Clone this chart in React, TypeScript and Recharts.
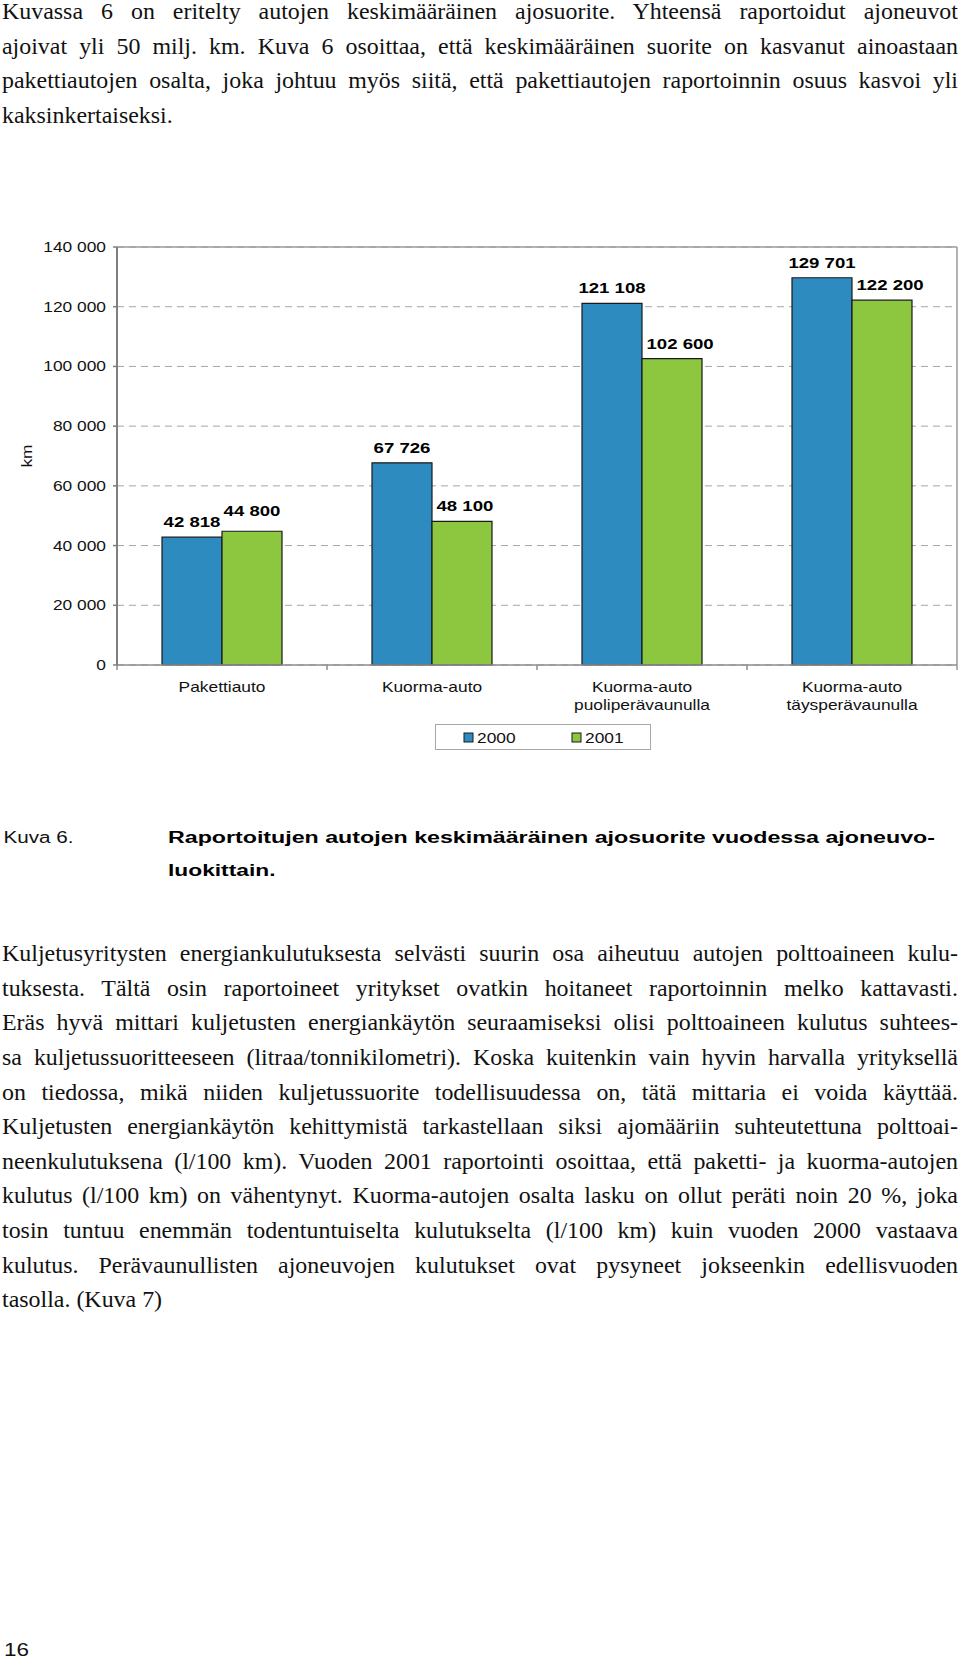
import React from 'react';
import { BarChart, Bar, XAxis, YAxis, CartesianGrid, LabelList, Legend } from 'recharts';

const categories = ['Pakettiauto', 'Kuorma-auto', 'Kuorma-auto\npuoliperävaunulla', 'Kuorma-auto\ntäysperävaunulla'];
const values2000 = [42818, 67726, 121108, 129701];
const values2001 = [44800, 48100, 102600, 122200];
const seriesNames = ['2000', '2001'];
const yTicks = [0, 20000, 40000, 60000, 80000, 100000, 120000, 140000];
const yAxisTitle = 'km';

const introLines = [
  'Kuvassa 6 on eritelty autojen keskimääräinen ajosuorite. Yhteensä raportoidut ajoneuvot',
  'ajoivat yli 50 milj. km. Kuva 6 osoittaa, että keskimääräinen suorite on kasvanut ainoastaan',
  'pakettiautojen osalta, joka johtuu myös siitä, että pakettiautojen raportoinnin osuus kasvoi yli',
  'kaksinkertaiseksi.',
];
const bodyLines = [
  'Kuljetusyritysten energiankulutuksesta selvästi suurin osa aiheutuu autojen polttoaineen kulu-',
  'tuksesta. Tältä osin raportoineet yritykset ovatkin hoitaneet raportoinnin melko kattavasti.',
  'Eräs hyvä mittari kuljetusten energiankäytön seuraamiseksi olisi polttoaineen kulutus suhtees-',
  'sa kuljetussuoritteeseen (litraa/tonnikilometri). Koska kuitenkin vain hyvin harvalla yrityksellä',
  'on tiedossa, mikä niiden kuljetussuorite todellisuudessa on, tätä mittaria ei voida käyttää.',
  'Kuljetusten energiankäytön kehittymistä tarkastellaan siksi ajomääriin suhteutettuna polttoai-',
  'neenkulutuksena (l/100 km). Vuoden 2001 raportointi osoittaa, että paketti- ja kuorma-autojen',
  'kulutus (l/100 km) on vähentynyt. Kuorma-autojen osalta lasku on ollut peräti noin 20 %, joka',
  'tosin tuntuu enemmän todentuntuiselta kulutukselta (l/100 km) kuin vuoden 2000 vastaava',
  'kulutus. Perävaunullisten ajoneuvojen kulutukset ovat pysyneet jokseenkin edellisvuoden',
  'tasolla. (Kuva 7)',
];
const captionLabel = 'Kuva 6.';
const captionLines = ['Raportoitujen autojen keskimääräinen ajosuorite vuodessa ajoneuvo-', 'luokittain.'];
const pageNumber = '16';

const data = categories.map((c, i) => ({ category: c, y2000: values2000[i], y2001: values2001[i] }));

const BLUE = '#2E8BC0';
const GREEN = '#8DC63F';
const SANS = '"Liberation Sans", Arial, sans-serif';
const SX = 1.24;

const fmt = (v: number) => String(v).replace(/\B(?=(\d{3})+(?!\d))/g, ' ');

const YTick = (props: any) => {
  const { x, y, payload } = props;
  return (
    <g transform={`translate(${x},${y}) scale(${SX},1)`}>
      <text x={0} y={0} dy="0.36em" textAnchor="end" fontSize={14} fontFamily={SANS} fill="#111">
        {fmt(payload.value)}
      </text>
    </g>
  );
};

const XTick = (props: any) => {
  const { x, y, payload, index, visibleTicksCount, width } = props;
  const half = payload && payload.offset ? payload.offset : width / visibleTicksCount / 2;
  const lines = String(payload.value).split('\n');
  return (
    <g>
      <line x1={x - half} x2={x - half} y1={y} y2={y + 5} stroke="#8c8c8c" strokeWidth={1.5} />
      {index === visibleTicksCount - 1 && (
        <line x1={x + half} x2={x + half} y1={y} y2={y + 5} stroke="#9a9a9a" strokeWidth={1.5} />
      )}
      <g transform={`translate(${x},${y}) scale(${SX},1)`}>
        <text textAnchor="middle" fontSize={14} fontFamily={SANS} fill="#111">
          {lines.map((l, i) => (
            <tspan key={i} x={0} y={27 + i * 18.5}>
              {l}
            </tspan>
          ))}
        </text>
      </g>
    </g>
  );
};

// Labels: the second series' label is nudged like Excel does to avoid the neighbouring labels/bars
const makeBarLabel = (otherValues: number[] | null) => (props: any) => {
  const { x, y, width, value, index } = props;
  const v = Number(value);
  let anchor: 'middle' | 'start' = 'middle';
  let tx = Number(x) + Number(width) / 2;
  let ty = Number(y) - 10;
  if (otherValues) {
    const other = otherValues[index];
    if (other > v) {
      anchor = 'start';
      tx = Number(x) + 4.5;
    } else {
      ty = Number(y) - 15;
    }
  }
  return (
    <g transform={`translate(${tx},${ty}) scale(${SX},1)`}>
      <text textAnchor={anchor} fontSize={15} fontWeight="bold" fontFamily={SANS} fill="#000">
        {fmt(v)}
      </text>
    </g>
  );
};

const Label2000 = makeBarLabel(null);
const Label2001 = makeBarLabel(values2000);

const KmLabel = (props: any) => {
  const { viewBox, value } = props;
  const cx = (viewBox?.x ?? 0) + 27;
  const cy = (viewBox?.y ?? 0) + (viewBox?.height ?? 0) / 2;
  return (
    <g transform={`translate(${cx},${cy}) rotate(-90) scale(${SX},1)`}>
      <text textAnchor="middle" dy="0.35em" fontSize={14} fontFamily={SANS} fill="#111">
        {value}
      </text>
    </g>
  );
};

const LegendBox = (props: any) => {
  const payload = props.payload || [];
  return (
    <div style={{ width: 216, height: 26, boxSizing: 'border-box', border: '1px solid #a8a8a8', background: '#fff' }}>
      <svg width={214} height={24} style={{ display: 'block' }}>
        {payload.map((p: any, i: number) => (
          <g key={i}>
            <rect x={28 + i * 108} y={8} width={9} height={9} fill={p.color} stroke="#1a1a1a" strokeWidth={1} />
            <g transform={`translate(${41 + i * 108},17.5) scale(${SX},1)`}>
              <text fontSize={14} fontFamily={SANS} fill="#111">
                {p.value}
              </text>
            </g>
          </g>
        ))}
      </svg>
    </div>
  );
};

const TextLine = ({ text, baseline, justify }: { text: string; baseline: number; justify: boolean }) => {
  const s = 1.04;
  return (
    <div
      style={{
        position: 'absolute',
        left: 2,
        top: baseline - 22.8,
        width: 956 / s,
        transform: `scaleX(${s})`,
        transformOrigin: '0 0',
        fontFamily: '"Liberation Serif", "Times New Roman", serif',
        fontSize: 23,
        lineHeight: '30px',
        color: '#111',
        textAlign: justify ? 'justify' : 'left',
        textAlignLast: justify ? 'justify' : 'left',
      } as React.CSSProperties}
    >
      {text}
    </div>
  );
};

export default function App() {
  const lh = 34.6;
  return (
    <div style={{ position: 'relative', width: 960, height: 1661, background: '#fff', overflow: 'hidden' }}>
      <style>{'body{margin:0;background:#fff}'}</style>
      {introLines.map((t, i) => (
        <TextLine key={'a' + i} text={t} baseline={20 + i * lh} justify={i < introLines.length - 1} />
      ))}

      <div style={{ position: 'absolute', left: 0, top: 200 }}>
        <BarChart
          width={960}
          height={551}
          data={data}
          margin={{ top: 47, right: 3, left: 0, bottom: 0 }}
          barGap={0}
          barSize={60}
        >
          <CartesianGrid vertical={false} stroke="#a6a6a6" strokeDasharray="7 5" />
          <CartesianGrid
            stroke="#9a9a9a"
            strokeWidth={1.5}
            horizontalCoordinatesGenerator={(p: any) => [p.offset.top]}
            verticalCoordinatesGenerator={(p: any) => [p.offset.left + p.offset.width]}
          />
          <XAxis
            dataKey="category"
            interval={0}
            height={60}
            tickSize={0}
            tickMargin={0}
            tickLine={false}
            axisLine={{ stroke: '#8c8c8c', strokeWidth: 1.5 }}
            tick={<XTick />}
          />
          <YAxis
            width={117}
            domain={[0, 140000]}
            ticks={yTicks}
            interval={0}
            tickSize={4}
            tickMargin={7}
            tick={<YTick />}
            tickLine={{ stroke: '#7f7f7f', strokeWidth: 1.5 }}
            axisLine={{ stroke: '#7f7f7f', strokeWidth: 2 }}
            label={{ value: yAxisTitle, content: KmLabel }}
          />
          <Legend verticalAlign="bottom" wrapperStyle={{ left: 435, top: 524, width: 216, height: 26 }} content={LegendBox} />
          <Bar dataKey="y2000" name={seriesNames[0]} fill={BLUE} stroke="#1a1a1a" strokeWidth={1.2} isAnimationActive={false}>
            <LabelList dataKey="y2000" content={Label2000} />
          </Bar>
          <Bar dataKey="y2001" name={seriesNames[1]} fill={GREEN} stroke="#1a1a1a" strokeWidth={1.2} isAnimationActive={false}>
            <LabelList dataKey="y2001" content={Label2001} />
          </Bar>
        </BarChart>
      </div>

      <svg width={960} height={100} style={{ position: 'absolute', left: 0, top: 800 }}>
        <text x={3.5} y={43.3} fontSize={16} fontFamily={SANS} fill="#111" textLength={70} lengthAdjust="spacingAndGlyphs">
          {captionLabel}
        </text>
        <text x={168} y={43.3} fontSize={16} fontWeight="bold" fontFamily={SANS} fill="#000" textLength={767} lengthAdjust="spacingAndGlyphs">
          {captionLines[0]}
        </text>
        <text x={168} y={76.3} fontSize={16} fontWeight="bold" fontFamily={SANS} fill="#000" textLength={107.5} lengthAdjust="spacingAndGlyphs">
          {captionLines[1]}
        </text>
      </svg>

      {bodyLines.map((t, i) => (
        <TextLine key={'b' + i} text={t} baseline={962 + i * lh} justify={i < bodyLines.length - 1} />
      ))}

      <svg width={100} height={40} style={{ position: 'absolute', left: 0, top: 1621 }}>
        <text x={4} y={35} fontSize={18} fontFamily={SANS} fill="#111" textLength={25} lengthAdjust="spacingAndGlyphs">
          {pageNumber}
        </text>
      </svg>
    </div>
  );
}
